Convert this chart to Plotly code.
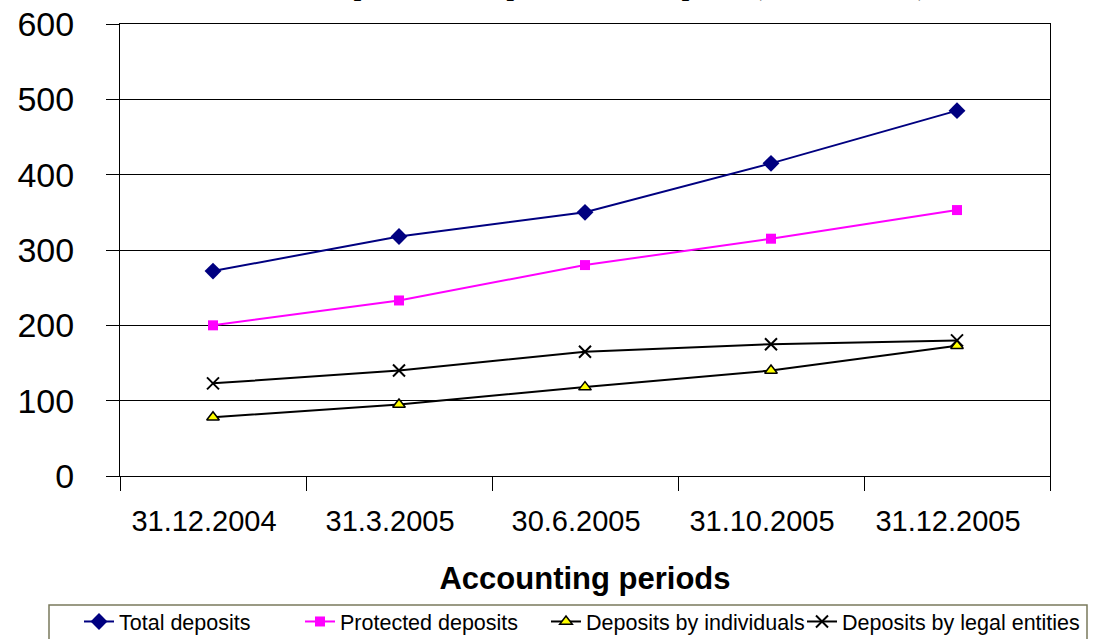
import plotly.graph_objects as go

# Accounting periods and deposit series (billion SKK)
periods = ["31.12.2004", "31.3.2005", "30.6.2005", "31.10.2005", "31.12.2005"]
total_deposits = [272, 318, 350, 415, 485]
protected_deposits = [200, 233, 280, 315, 353]
individual_deposits = [78, 95, 118, 140, 173]
legal_entity_deposits = [123, 140, 165, 175, 180]

series = [
    ("Total deposits", total_deposits,
     dict(color="#000080", width=2),
     dict(symbol="diamond", size=13, color="#000080")),
    ("Protected deposits", protected_deposits,
     dict(color="#FF00FF", width=2),
     dict(symbol="square", size=10, color="#FF00FF")),
    ("Deposits by individuals", individual_deposits,
     dict(color="#000000", width=2),
     dict(symbol="triangle-up", size=11, color="#FFFF00",
          line=dict(color="#000000", width=1.5))),
    ("Deposits by legal entities", legal_entity_deposits,
     dict(color="#000000", width=2),
     dict(symbol="x-thin", size=12, color="#000000",
          line=dict(color="#000000", width=2))),
]

PLOT_L, PLOT_R, PLOT_T, PLOT_B = 120, 1050, 24, 476
PLOT_W, PLOT_H = PLOT_R - PLOT_L, PLOT_B - PLOT_T

def px_x(px):
    return (px - PLOT_L) / PLOT_W

def px_y(py):
    return (PLOT_B - py) / PLOT_H

# one legend per series so each entry sits at its own spot in the strip
legend_left_px = [79, 300, 546, 802]
legend_names = ["legend", "legend2", "legend3", "legend4"]

fig = go.Figure()
for (name, values, line, marker), lg in zip(series, legend_names):
    fig.add_trace(go.Scatter(
        x=periods, y=values, name=name, mode="lines+markers",
        line=line, marker=marker, legend=lg,
    ))

legend_style = dict(
    orientation="h", yanchor="top", xanchor="left",
    y=px_y(601),
    borderwidth=0, bgcolor="rgba(0,0,0,0)",
    font=dict(size=21.5, family="Liberation Sans, Arial, sans-serif"),
)

fig.update_layout(
    width=1094, height=639,
    margin=dict(l=PLOT_L, r=1094 - PLOT_R, t=PLOT_T, b=639 - PLOT_B,
                autoexpand=False),
    paper_bgcolor="white", plot_bgcolor="white",
    font=dict(family="Liberation Sans, Arial, sans-serif", color="#000000"),
    showlegend=True,
    **{lg: dict(legend_style, x=px_x(xp))
       for lg, xp in zip(legend_names, legend_left_px)},
    # legend frame
    shapes=[dict(
        type="rect", xref="paper", yref="paper",
        x0=px_x(49), x1=px_x(1087),
        y0=px_y(650), y1=px_y(605),
        line=dict(color="#7a7a5c", width=1.5), fillcolor="rgba(0,0,0,0)",
        layer="below",
    )],
    annotations=[dict(
        text="Development of deposits and its parts (billion SKK)",
        xref="paper", yref="paper", x=0.871, y=1.046,
        xanchor="right", yanchor="bottom", showarrow=False,
        font=dict(family="Liberation Serif, Times New Roman, serif", size=32),
    )],
)

fig.update_xaxes(
    type="category", range=[-0.5, 4.5], automargin=False,
    showline=True, linecolor="#000000", linewidth=1, mirror=True,
    ticks="outside", tickson="boundaries", ticklen=14, tickcolor="#000000",
    tickfont=dict(size=29), ticklabelstandoff=19, ticklabelshift=-9,
    showgrid=False,
    title=dict(text="<b>Accounting periods</b>", font=dict(size=31), standoff=31),
)
fig.update_yaxes(
    range=[0, 600], dtick=100, automargin=False,
    showline=True, linecolor="#000000", linewidth=1, mirror=True,
    ticks="outside", ticklen=13, tickcolor="#000000",
    tickfont=dict(size=34), ticklabelstandoff=25,
    showgrid=True, gridcolor="#000000", gridwidth=1,
    zeroline=False,
)

fig.write_html("out.html")
